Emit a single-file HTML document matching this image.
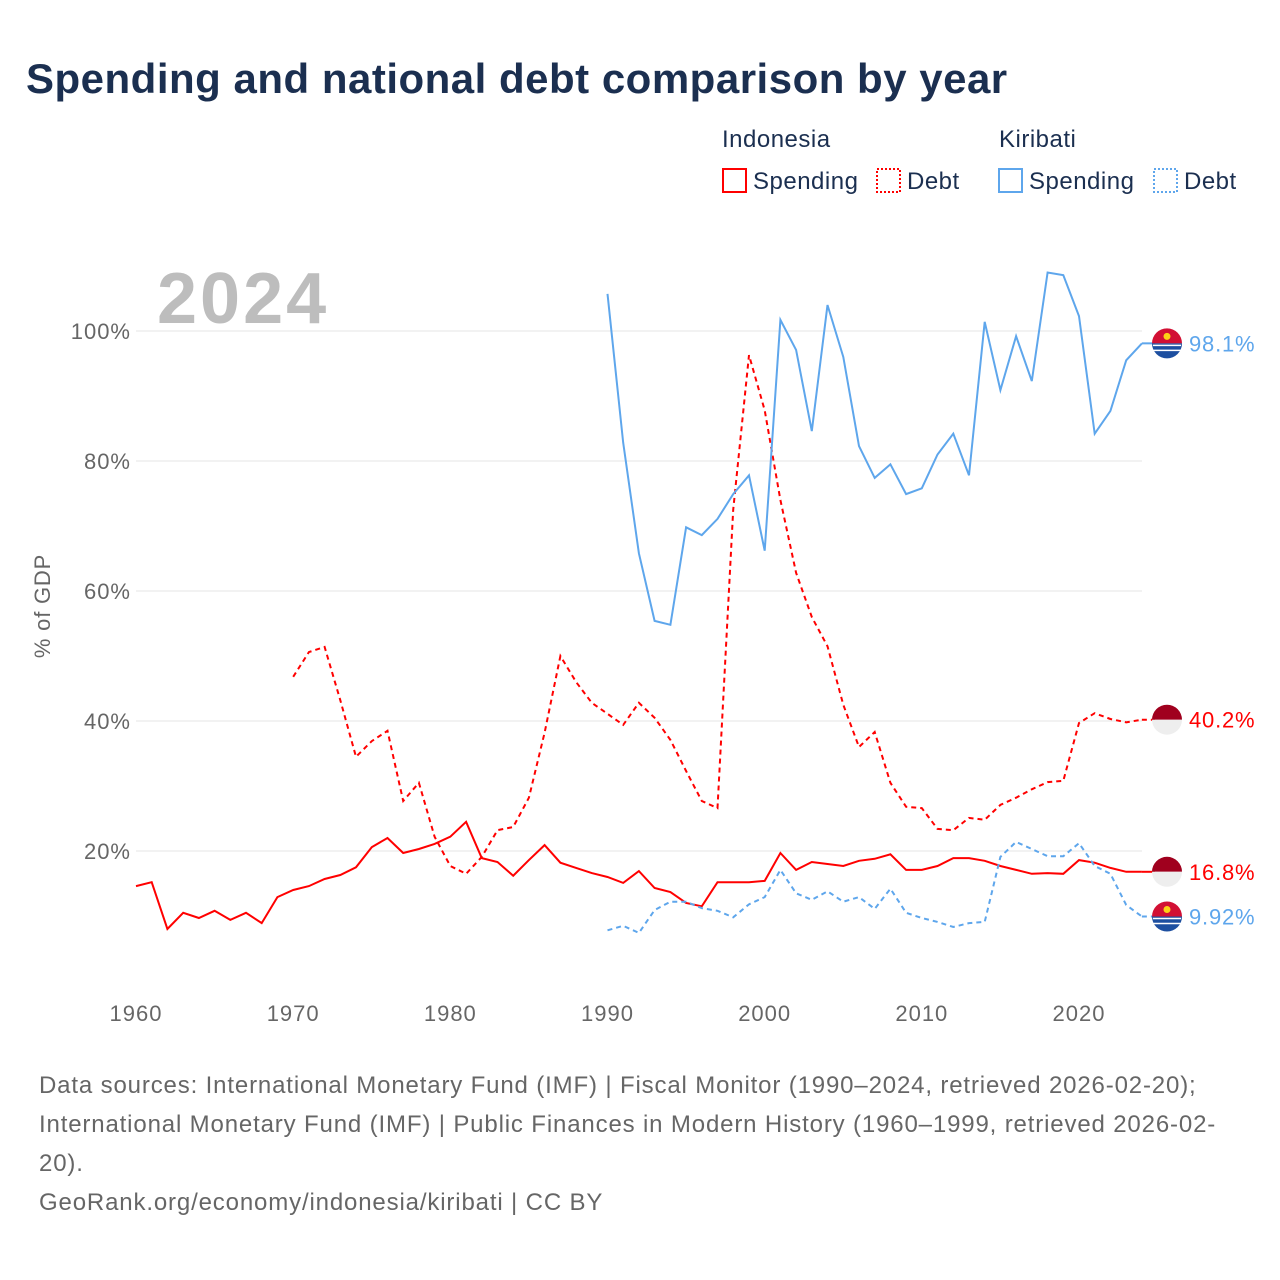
<!DOCTYPE html>
<html><head><meta charset="utf-8">
<style>
body{margin:0;background:#fff;font-family:"Liberation Sans",sans-serif;}
#wrap{position:relative;width:1280px;height:1280px;overflow:hidden;}
</style></head>
<body>
<div id="wrap">
<svg id="chart" width="1280" height="1280" xmlns="http://www.w3.org/2000/svg">
<text x="26" y="93" font-size="42" font-weight="bold" fill="#1b2f50" letter-spacing="0.5">Spending and national debt comparison by year</text>
<g font-size="24" fill="#1b2f50" letter-spacing="0.5">
<text x="722" y="147">Indonesia</text>
<text x="999" y="147">Kiribati</text>
<g><rect x="723" y="169" width="23" height="23" fill="none" stroke="#f00" stroke-width="2"/><text x="753" y="189">Spending</text></g>
<g><rect x="877" y="169" width="23" height="23" fill="none" stroke="#f00" stroke-width="2" stroke-dasharray="2,2"/><text x="907" y="189">Debt</text></g>
<g><rect x="999" y="169" width="23" height="23" fill="none" stroke="#5ea6ec" stroke-width="2"/><text x="1029" y="189">Spending</text></g>
<g><rect x="1154" y="169" width="23" height="23" fill="none" stroke="#5ea6ec" stroke-width="2" stroke-dasharray="2,2"/><text x="1184" y="189">Debt</text></g>
</g>
<text x="157" y="323" font-size="72" font-weight="bold" fill="#bdbdbd" letter-spacing="3">2024</text>
<text transform="translate(50,606) rotate(-90)" text-anchor="middle" font-size="22" fill="#666" letter-spacing="0.8">% of GDP</text>
<g id="grid"></g><g id="series"></g><g id="ends"></g>
<g font-size="24" fill="#666" letter-spacing="0.85">
<text x="39" y="1093">Data sources: International Monetary Fund (IMF) | Fiscal Monitor (1990–2024, retrieved 2026-02-20);</text>
<text x="39" y="1132">International Monetary Fund (IMF) | Public Finances in Modern History (1960–1999, retrieved 2026-02-</text>
<text x="39" y="1171">20).</text>
<text x="39" y="1210">GeoRank.org/economy/indonesia/kiribati | CC BY</text>
</g>
</svg>
</div>
<script>
const yTicks=[20,40,60,80,100];
const xTicks=[1960,1970,1980,1990,2000,2010,2020];
const idnSpendYears0=1960;
const idnSpending=[14.6,15.2,8,10.5,9.7,10.8,9.4,10.5,8.9,12.9,14,14.6,15.7,16.3,17.5,20.6,22,19.7,20.3,21.1,22.2,24.5,18.9,18.3,16.2,18.6,20.9,18.2,17.4,16.6,16,15.1,16.9,14.3,13.7,12,11.5,15.2,15.2,15.2,15.4,19.7,17.1,18.3,18,17.7,18.5,18.8,19.5,17.1,17.1,17.7,18.9,18.9,18.5,17.7,17.1,16.5,16.6,16.5,18.6,18.2,17.4,16.8,16.8];
const idnDebtYears0=1970;
const idnDebt=[46.8,50.6,51.4,43.2,34.5,36.9,38.5,27.7,30.5,22.2,17.7,16.5,19.1,23.2,23.7,28.2,38.2,50,46,42.8,41.1,39.4,42.8,40.5,37.1,32.3,27.7,26.6,72.5,96.3,87.8,74,62.8,56,51.5,42.5,36,38.3,30.5,26.8,26.6,23.4,23.2,25.1,24.8,27.1,28.2,29.5,30.6,30.8,39.7,41.2,40.3,39.8,40.2];
const kirYears0=1990;
const kirSpending=[105.7,82.8,65.8,55.4,54.8,69.8,68.6,71.1,74.9,77.8,66.2,101.7,97.1,84.6,104,96,82.3,77.4,79.5,74.9,75.8,81,84.2,77.8,101.4,90.9,99.2,92.3,109,108.6,102.3,84.2,87.7,95.5,98.1];
const kirDebt=[7.8,8.5,7.4,10.9,12.2,12.2,11.2,10.8,9.8,11.8,12.9,17.1,13.5,12.5,13.8,12.2,12.9,11.1,14.2,10.5,9.7,9.1,8.3,8.9,9.1,19.1,21.4,20.3,19.2,19.2,21.2,17.7,16.5,11.7,9.92];
const endLabels=["98.1%","40.2%","16.8%","9.92%"];

const NS="http://www.w3.org/2000/svg";
const X=yr=>136+(yr-1960)*(943/60);
const Y=v=>981-v*6.5;
function mk(tag,attrs,parent){const e=document.createElementNS(NS,tag);for(const k in attrs)e.setAttribute(k,attrs[k]);parent.appendChild(e);return e;}
const grid=document.getElementById('grid');
yTicks.forEach(t=>{
 const l=mk('line',{x1:136,x2:1142,y1:Y(t),y2:Y(t),stroke:'#e6e6e6','stroke-width':1},grid);
 
 
 const tx=mk('text',{x:131,y:Y(t)+8,'text-anchor':'end','font-size':22,fill:'#666','letter-spacing':1},grid);
 tx.textContent=t+'%';
 
 
});
xTicks.forEach(t=>{
 const tx=mk('text',{x:X(t),y:1021,'text-anchor':'middle','font-size':22,fill:'#666','letter-spacing':1},grid);
 tx.textContent=t;
 
 
});
const ser=document.getElementById('series');
function line(arr,y0,color,dash,name){
 const d=arr.map((v,i)=>(i?'L':'M')+X(y0+i).toFixed(1)+','+Y(v).toFixed(1)).join(' ');
 const p=mk('path',{d:d,fill:'none',stroke:color,'stroke-width':2,'stroke-dasharray':dash},ser);
 
 
 const last=arr[arr.length-1];
 mk('line',{x1:X(y0+arr.length-1),x2:1155,y1:Y(last),y2:Y(last),stroke:color,'stroke-width':2,'stroke-dasharray':dash},ser);
}
line(idnSpending,idnSpendYears0,'#ff0000','none','line-indonesia-spending');
line(idnDebt,idnDebtYears0,'#ff0000','5,4','line-indonesia-debt');
line(kirSpending,kirYears0,'#5ea6ec','none','line-kiribati-spending');
line(kirDebt,kirYears0,'#5ea6ec','5,4','line-kiribati-debt');
const ends=document.getElementById('ends');
function flag(v,country,label,color,name){
 const cy=Y(v),cx=1167,r=15;
 const g=mk('g',{},ends);
 
 
 if(country==='idn'){
  mk('path',{d:`M${cx-r},${cy} A${r},${r} 0 0 1 ${cx+r},${cy} Z`,fill:'#a0001e'},g);
  mk('path',{d:`M${cx-r},${cy} A${r},${r} 0 0 0 ${cx+r},${cy} Z`,fill:'#eee'},g);
 }else{
  mk('path',{d:`M${cx-r},${cy} A${r},${r} 0 0 1 ${cx+r},${cy} Z`,fill:'#d21034'},g);
  mk('path',{d:`M${cx-r},${cy} A${r},${r} 0 0 0 ${cx+r},${cy} Z`,fill:'#1d4fa0'},g);
  mk('circle',{cx:cx,cy:cy-7,r:3.5,fill:'#fcd116'},g);
  [2,7].forEach(o=>mk('line',{x1:cx-r+1,x2:cx+r-1,y1:cy+o,y2:cy+o,stroke:'#fff','stroke-width':1.5},g));
 }
 const t=mk('text',{x:1189,y:cy+8,'font-size':22,fill:color,'letter-spacing':0.8},g);
 t.textContent=label;
}
flag(kirSpending[kirSpending.length-1],'kir',endLabels[0],'#5ea6ec','end-label-kiribati-spending');
flag(idnDebt[idnDebt.length-1],'idn',endLabels[1],'#ff0000','end-label-indonesia-debt');
flag(idnSpending[idnSpending.length-1],'idn',endLabels[2],'#ff0000','end-label-indonesia-spending');
flag(kirDebt[kirDebt.length-1],'kir',endLabels[3],'#5ea6ec','end-label-kiribati-debt');
</script>
</body></html>
